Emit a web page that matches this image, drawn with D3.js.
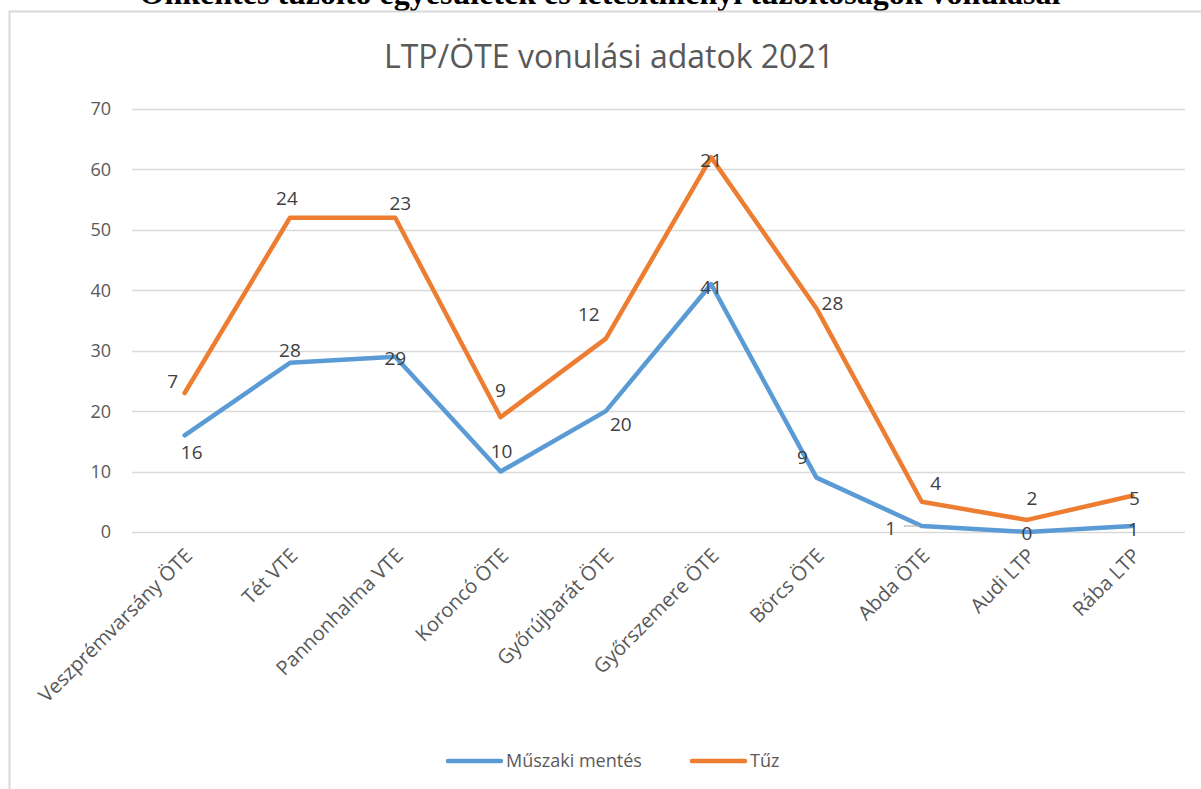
<!DOCTYPE html>
<html>
<head>
<meta charset="utf-8">
<script src="https://cdn.jsdelivr.net/npm/d3@7"></script>
<style>
  body { margin: 0; background: #fff; }
  svg { display: block; }
  text { font-family: "Open Sans", "Noto Sans", sans-serif; }
</style>
</head>
<body>
<svg id="chart" width="1201" height="789"></svg>
<script>
// data
const categories = ['Veszprémvarsány ÖTE', 'Tét VTE', 'Pannonhalma VTE', 'Koroncó ÖTE', 'Győrújbarát ÖTE',
    'Győrszemere ÖTE', 'Börcs ÖTE', 'Abda ÖTE', 'Audi LTP', 'Rába LTP']
const muszaki = [16, 28, 29, 10, 20, 41, 9, 1, 0, 1]
const tuz = [7, 24, 23, 9, 12, 21, 28, 4, 2, 5]
const yTicks = [0, 10, 20, 30, 40, 50, 60, 70]
const seriesNames = ['Műszaki mentés', 'Tűz']
const colors = ['#5B9BD5', '#ED7D31']

// label offsets (as Excel left them), px relative to the point
const labelShiftBlue = [[7, 17], [0, -13], [0, 1], [1, -20], [15, 13], [0, 3], [-14, -20], [-31, 2], [0, 1], [1, 3]]
const labelShiftOrange = [[-12, -12], [-3, -20], [5, -15], [0, -27], [-17, -24], [0, 3], [16, -5], [14, -19], [5, -22], [2, 2]]

const svg = d3.select('#chart')

// cut-off heading from the page above
svg.append('text')
    .attr('x', 600).attr('y', 4)
    .attr('text-anchor', 'middle')
    .style('font-family', '"Liberation Serif", "DejaVu Serif", serif')
    .style('font-weight', 'bold')
    .style('font-size', '32px')
    .attr('fill', '#000')
    .text('Önkéntes tűzoltó egyesületek és létesítményi tűzoltóságok vonulásai')

// chart frame
svg.append('rect')
    .attr('x', 9.5).attr('y', 11.5)
    .attr('width', 1300).attr('height', 900)
    .attr('fill', '#fff')
    .attr('stroke', '#d9d9d9')
    .attr('stroke-width', 2)

svg.append('text')
    .attr('x', 609).attr('y', 68)
    .attr('text-anchor', 'middle')
    .style('font-size', '32px')
    .attr('fill', '#595959')
    .text('LTP/ÖTE vonulási adatok 2021')

let x = d3.scaleBand()
    .domain(categories)
    .range([132, 1185])

let y = d3.scaleLinear()
    .domain([0, 70])
    .range([532, 109])

// gridlines
svg.append('g')
    .selectAll('line')
    .data(yTicks)
    .enter()
    .append('line')
    .attr('x1', 132).attr('x2', 1185)
    .attr('y1', d => Math.round(y(d)) + 0.5)
    .attr('y2', d => Math.round(y(d)) + 0.5)
    .attr('stroke', '#d9d9d9')
    .attr('stroke-width', 1.3)

// y axis labels
svg.append('g')
    .selectAll('text')
    .data(yTicks)
    .enter()
    .append('text')
    .attr('x', 111)
    .attr('y', d => y(d))
    .attr('dy', '0.36em')
    .attr('text-anchor', 'end')
    .style('font-size', '18px')
    .attr('fill', '#595959')
    .text(d => d)

// category labels, rotated
svg.append('g')
    .selectAll('text')
    .data(categories)
    .enter()
    .append('text')
    .attr('transform', d => `translate(${x(d) + x.bandwidth() / 2 + 9},${557}) rotate(-45)`)
    .attr('text-anchor', 'end')
    .style('font-size', '20px')
    .attr('fill', '#595959')
    .text(d => d)

// stacked values
let stacked = muszaki.map((d, i) => d + tuz[i])
let cx = i => x(categories[i]) + x.bandwidth() / 2

let line = d3.line()
    .x((d, i) => cx(i))
    .y(d => y(d))

let seriesData = [muszaki, stacked]
seriesData.forEach((s, k) => {
    svg.append('path')
        .datum(s)
        .attr('d', line)
        .attr('fill', 'none')
        .attr('stroke', colors[k])
        .attr('stroke-width', 4.5)
        .attr('stroke-linejoin', 'round')
        .attr('stroke-linecap', 'round')
})

// leader line for the Abda label
svg.append('line')
    .attr('x1', cx(7) - 18).attr('x2', cx(7) - 2)
    .attr('y1', y(muszaki[7])).attr('y2', y(muszaki[7]))
    .attr('stroke', '#a6a6a6')
    .attr('stroke-width', 1)

// data labels
let labels = [
    {vals: muszaki, pos: muszaki, shift: labelShiftBlue},
    {vals: tuz, pos: stacked, shift: labelShiftOrange}
]
labels.forEach(l => {
    svg.append('g')
        .selectAll('text')
        .data(l.vals)
        .enter()
        .append('text')
        .attr('x', (d, i) => cx(i) + l.shift[i][0])
        .attr('y', (d, i) => y(l.pos[i]) + l.shift[i][1])
        .attr('dy', '0.36em')
        .attr('text-anchor', 'middle')
        .style('font-size', '19px')
        .attr('fill', '#404040')
        .text(d => d)
})

// legend
let legend = svg.append('g')
let legendX = [448, 692]
seriesNames.forEach((name, k) => {
    legend.append('line')
        .attr('x1', legendX[k]).attr('x2', legendX[k] + 53)
        .attr('y1', 761).attr('y2', 761)
        .attr('stroke', colors[k])
        .attr('stroke-width', 4.5)
        .attr('stroke-linecap', 'round')
    legend.append('text')
        .attr('x', legendX[k] + 58)
        .attr('y', 761)
        .attr('dy', '0.36em')
        .style('font-size', '18px')
        .attr('fill', '#595959')
        .text(name)
})
</script>
</body>
</html>
